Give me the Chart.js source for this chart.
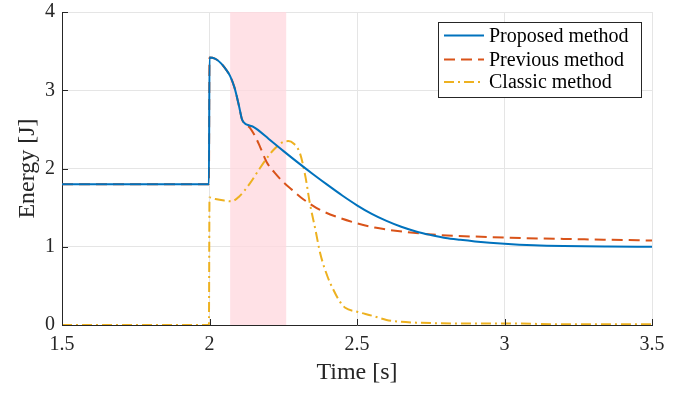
<!DOCTYPE html>
<html>
<head>
<meta charset="utf-8">
<script src="https://cdn.jsdelivr.net/npm/chart.js@4"></script>
<style>
  html, body { margin: 0; padding: 0; background: #fff; }
  #wrap { width: 689px; height: 394px; }
</style>
</head>
<body>
<div id="wrap"><canvas id="c" width="689" height="394"></canvas></div>
<script>
// Energy traces
const proposedT = [1.5, 1.998, 2.0, 2.01, 2.025, 2.04, 2.055, 2.07, 2.085, 2.1, 2.11, 2.12, 2.135, 2.15, 2.165, 2.2, 2.25, 2.3, 2.35, 2.4, 2.45, 2.5, 2.55, 2.6, 2.65, 2.7, 2.75, 2.8, 2.85, 2.9, 3.0, 3.1, 3.2, 3.35, 3.5];
const proposedE = [1.8, 1.8, 3.42, 3.415, 3.39, 3.34, 3.27, 3.18, 3.03, 2.8, 2.63, 2.575, 2.55, 2.53, 2.49, 2.38, 2.225, 2.075, 1.93, 1.79, 1.655, 1.53, 1.42, 1.33, 1.255, 1.195, 1.15, 1.112, 1.088, 1.068, 1.038, 1.018, 1.008, 1.002, 1.0];

const previousT = [1.5, 1.998, 2.0, 2.01, 2.025, 2.04, 2.055, 2.07, 2.085, 2.1, 2.11, 2.12, 2.137, 2.155, 2.171, 2.194, 2.22, 2.249, 2.279, 2.31, 2.34, 2.375, 2.44, 2.5, 2.56, 2.61, 2.7, 2.78, 2.9, 3.02, 3.2, 3.5];
const previousE = [1.8, 1.8, 3.42, 3.415, 3.39, 3.34, 3.27, 3.18, 3.03, 2.8, 2.63, 2.575, 2.52, 2.41, 2.28, 2.08, 1.95, 1.83, 1.73, 1.63, 1.55, 1.47, 1.37, 1.30, 1.245, 1.215, 1.175, 1.15, 1.13, 1.115, 1.1, 1.08];

const classicT = [1.5, 1.998, 2.0, 2.02, 2.05, 2.075, 2.1, 2.137, 2.165, 2.194, 2.22, 2.25, 2.267, 2.285, 2.307, 2.325, 2.34, 2.36, 2.375, 2.4, 2.42, 2.44, 2.46, 2.5, 2.55, 2.6, 2.65, 2.7, 2.85, 3.0, 3.2, 3.5];
const classicE = [0, 0, 1.63, 1.61, 1.59, 1.58, 1.64, 1.81, 1.97, 2.13, 2.25, 2.34, 2.35, 2.32, 2.19, 1.9, 1.56, 1.2, 0.92, 0.62, 0.45, 0.31, 0.22, 0.17, 0.12, 0.065, 0.04, 0.03, 0.02, 0.02, 0.01, 0.01];

const seriesLabels = ['Proposed method', 'Previous method', 'Classic method'];
const xTicks = [1.5, 2, 2.5, 3, 3.5];
const yTicks = [0, 1, 2, 3, 4];
const bandRange = [2.07, 2.26];

const FONT = '"Liberation Serif", "Times New Roman", serif';
const AXIS_COLOR = '#262626';
const GRID_COLOR = '#e5e5e5';

const toPoints = (ts, es) => ts.map((t, i) => ({ x: t, y: es[i] }));

// shaded interval behind the traces
const bandPlugin = {
  id: 'band',
  beforeDatasetsDraw(chart) {
    const { ctx, chartArea, scales } = chart;
    const x0 = scales.x.getPixelForValue(bandRange[0]);
    const x1 = scales.x.getPixelForValue(bandRange[1]);
    ctx.save();
    ctx.fillStyle = 'rgba(255, 215, 222, 0.75)';
    ctx.fillRect(x0, chartArea.top, x1 - x0, chartArea.bottom - chartArea.top);
    ctx.restore();
  }
};

// inward ticks and legend, MATLAB style
const framePlugin = {
  id: 'frame',
  afterDraw(chart) {
    const { ctx, chartArea: a, scales } = chart;
    ctx.save();
    ctx.strokeStyle = AXIS_COLOR;
    ctx.lineWidth = 1;
    ctx.beginPath();
    xTicks.forEach(v => {
      const px = Math.round(scales.x.getPixelForValue(v)) + 0.5;
      ctx.moveTo(px, a.bottom); ctx.lineTo(px, a.bottom - 6);
    });
    yTicks.forEach(v => {
      const py = Math.round(scales.y.getPixelForValue(v)) + 0.5;
      ctx.moveTo(a.left, py); ctx.lineTo(a.left + 6, py);
    });
    ctx.stroke();

    // legend
    const lx = 438.5, ly = 22.5, lw = 203, lh = 75;
    ctx.fillStyle = '#fff';
    ctx.fillRect(lx, ly, lw, lh);
    ctx.strokeStyle = AXIS_COLOR;
    ctx.strokeRect(lx, ly, lw, lh);
    const rows = [35.5, 59.5, 82];
    ctx.font = '20px ' + FONT;
    ctx.textBaseline = 'middle';
    chart.data.datasets.forEach((ds, i) => {
      ctx.strokeStyle = ds.borderColor;
      ctx.lineWidth = ds.borderWidth;
      ctx.setLineDash(ds.borderDash || []);
      ctx.beginPath();
      ctx.moveTo(444, rows[i]); ctx.lineTo(484, rows[i]);
      ctx.stroke();
      ctx.setLineDash([]);
      ctx.fillStyle = '#000';
      ctx.fillText(ds.label, 489, rows[i] + 1);
    });
    ctx.restore();
  }
};

new Chart(document.getElementById('c').getContext('2d'), {
  type: 'line',
  data: {
    datasets: [
      { label: seriesLabels[0], data: toPoints(proposedT, proposedE), borderColor: '#0072BD', borderWidth: 2, borderDash: [] },
      { label: seriesLabels[1], data: toPoints(previousT, previousE), borderColor: '#D95319', borderWidth: 2, borderDash: [11, 6] },
      { label: seriesLabels[2], data: toPoints(classicT, classicE), borderColor: '#EDB120', borderWidth: 2, borderDash: [10, 4, 2, 4] }
    ].map((d, i) => Object.assign(d, { pointRadius: 0, cubicInterpolationMode: 'monotone', fill: false, order: i }))
  },
  options: {
    responsive: false,
    animation: false,
    layout: { padding: { left: 0, right: 37, top: 12, bottom: 0 } },
    plugins: { legend: { display: false }, tooltip: { enabled: false } },
    scales: {
      x: {
        type: 'linear', min: 1.5, max: 3.5,
        afterBuildTicks: s => { s.ticks = xTicks.map(v => ({ value: v })); },
        afterFit: s => { s.height = 69; s.paddingLeft = 0; s.paddingRight = 0; },
        ticks: { color: AXIS_COLOR, font: { family: FONT, size: 20 }, padding: 8, maxRotation: 0,
          callback: v => String(v) },
        grid: { color: GRID_COLOR, drawTicks: false },
        border: { color: AXIS_COLOR },
        title: { display: true, text: 'Time [s]', color: AXIS_COLOR, font: { family: FONT, size: 24 }, padding: { top: 0, bottom: 7 } }
      },
      y: {
        min: 0, max: 4,
        afterBuildTicks: s => { s.ticks = yTicks.map(v => ({ value: v })); },
        afterFit: s => { s.width = 62; s.paddingTop = 0; s.paddingBottom = 0; },
        ticks: { color: AXIS_COLOR, font: { family: FONT, size: 20 }, padding: 7 },
        grid: { color: GRID_COLOR, drawTicks: false },
        border: { color: AXIS_COLOR },
        title: { display: true, text: 'Energy [J]', color: AXIS_COLOR, font: { family: FONT, size: 24 }, padding: { top: 13, bottom: 0 } }
      }
    }
  },
  plugins: [bandPlugin, framePlugin]
});
</script>
</body>
</html>
